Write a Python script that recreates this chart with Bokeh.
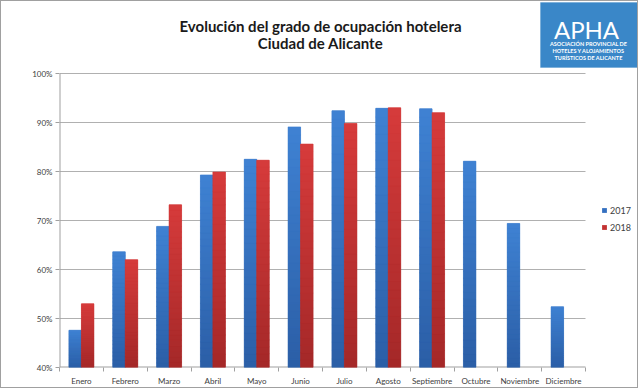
from bokeh.plotting import figure
from bokeh.models import (ColumnDataSource, FixedTicker, Legend, LegendItem, Label,
                          BoxAnnotation, Range1d)
from bokeh.embed import file_html
from bokeh.resources import INLINE

months = ["Enero", "Febrero", "Marzo", "Abril", "Mayo", "Junio", "Julio",
          "Agosto", "Septiembre", "Octubre", "Noviembre", "Diciembre"]
v2017 = [47.6, 63.6, 68.8, 79.3, 82.5, 89.1, 92.4, 92.9, 92.8, 82.1, 69.4, 52.4]
v2018 = [53.0, 62.0, 73.2, 79.9, 82.3, 85.6, 89.8, 93.0, 92.0, None, None, None]
series_names = ["2017", "2018"]
y_ticks = [40, 50, 60, 70, 80, 90, 100]

BASE = 40
TOP = 100
FONT = "Lato"
BW = 0.285
N = 30
NCAT = len(months)

# plot-area geometry in reference pixels (page has a 1px border)
PL, PR, PT, PB = 59, 585, 73, 367
XS = (PR - PL) / NCAT          # px per category
YS = (PB - PT) / (TOP - BASE)  # px per percent

def dx(px):
    return (px - PL) / XS

def dy(py):
    return BASE + (PB - py) / YS

def lerp(c1, c2, t):
    a = [int(c1[i:i + 2], 16) for i in (1, 3, 5)]
    b = [int(c2[i:i + 2], 16) for i in (1, 3, 5)]
    return "#%02x%02x%02x" % tuple(round(a[k] + (b[k] - a[k]) * t) for k in range(3))

grad = {"2017": ("#2b5ea6", "#3f82d3"), "2018": ("#a42828", "#d63b3b")}
mid = {"2017": "#3470c0", "2018": "#c33232"}
AXC = "#a0a0a0"

p = figure(width=638, height=388, output_backend="svg", toolbar_location=None,
           x_range=Range1d(0, dx(639)), y_range=Range1d(BASE, dy(1)),
           min_border_left=PL - 1, min_border_right=0, min_border_top=0,
           min_border_bottom=389 - PB)
p.styles = {"border": "1px solid #a0a0a0"}
p.outline_line_color = None
p.background_fill_color = "white"
p.border_fill_color = "white"

# gridlines and axis lines (limited to the plot area)
p.segment(x0=0, x1=NCAT, y0=y_ticks[1:], y1=y_ticks[1:], line_color="#b0b0b0", line_width=1)
p.segment(x0=0, x1=NCAT, y0=BASE, y1=BASE, line_color=AXC, line_width=2)
p.segment(x0=0, x1=0, y0=BASE, y1=TOP, line_color=AXC, line_width=2)

items = []
for s, vals, off in (("2017", v2017, -BW / 2), ("2018", v2018, BW / 2)):
    xs = [i + 0.5 + off for i, v in enumerate(vals) if v is not None]
    tops = [v for v in vals if v is not None]
    r = p.vbar(x=xs, top=tops, bottom=BASE, width=BW, fill_color=mid[s], line_color=None)
    items.append(LegendItem(label=s, renderers=[r]))
    sx, sb, st, sc = [], [], [], []
    for x, v in zip(xs, tops):
        for k in range(N):
            sx.append(x)
            sb.append(BASE + (v - BASE) * k / N)
            st.append(BASE + (v - BASE) * (k + 1) / N)
            sc.append(lerp(grad[s][0], grad[s][1], (k + 0.5) / N))
    src = ColumnDataSource(dict(x=sx, bottom=sb, top=st, color=sc))
    p.vbar(x="x", bottom="bottom", top="top", width=BW, fill_color="color",
           line_color="color", line_width=0.6, source=src)

# axes
centers = [i + 0.5 for i in range(NCAT)]
p.xaxis.ticker = FixedTicker(ticks=centers, minor_ticks=list(range(NCAT + 1)))
p.xaxis.major_label_overrides = {c: m for c, m in zip(centers, months)}
p.xaxis.major_tick_out = 0
p.xaxis.major_tick_in = 0
p.xaxis.minor_tick_out = 4
p.xaxis.minor_tick_in = 0
p.xaxis.minor_tick_line_color = AXC
p.xaxis.axis_line_color = None
p.xaxis.major_label_standoff = 4

p.yaxis.ticker = FixedTicker(ticks=y_ticks)
p.yaxis.major_label_overrides = {t: f"{t}%" for t in y_ticks}
p.yaxis.major_tick_out = 4
p.yaxis.major_tick_in = 0
p.yaxis.minor_tick_line_color = None
p.yaxis.major_tick_line_color = AXC
p.yaxis.axis_line_color = None
p.yaxis.major_label_standoff = 3

for ax in (p.xaxis, p.yaxis):
    ax.major_label_text_font = FONT
    ax.major_label_text_font_size = "8px"
    ax.major_label_text_color = "#404040"

p.xgrid.grid_line_color = None
p.ygrid.grid_line_color = None

legend = Legend(items=items, location=(601 - PL, PB - 233), border_line_color=None,
                background_fill_alpha=0, label_text_font=FONT,
                label_text_font_size="9px", label_text_color="#404040",
                glyph_width=6, glyph_height=6, label_height=12, spacing=5,
                label_standoff=3, padding=2, margin=0)
p.add_layout(legend, "center")

# title
for yy, t in ((25, "Evolución del grado de ocupación hotelera"), (42, "Ciudad de Alicante")):
    p.add_layout(Label(x=dx(320), y=dy(yy), text=t,
                       text_font=FONT, text_font_size="15px", text_font_style="bold",
                       text_align="center", text_baseline="alphabetic", text_color="#1a1a1a"))

# logo
p.add_layout(BoxAnnotation(left=dx(540), right=dx(637), top=dy(2), bottom=dy(67),
                           fill_color="#3a87c8", fill_alpha=1, line_color="#3a87c8"))
p.add_layout(Label(x=dx(586), y=dy(29), text="APHA",
                   text_font=FONT, text_font_size="24px", text_color="white",
                   text_align="center", text_baseline="alphabetic"))
for yy, t in ((43, "ASOCIACIÓN PROVINCIAL DE"), (50, "HOTELES Y ALOJAMIENTOS"),
              (57, "TURÍSTICOS DE ALICANTE")):
    p.add_layout(Label(x=dx(588), y=dy(yy), text=t,
                       text_font=FONT, text_font_size="5.5px", text_font_style="bold",
                       text_color="white", text_align="center", text_baseline="middle"))

open("out.html", "w").write(file_html(p, INLINE))
